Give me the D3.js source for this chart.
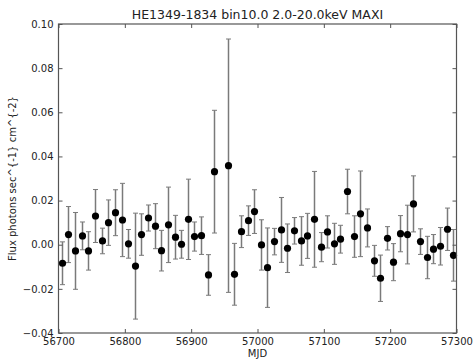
<!DOCTYPE html>
<html>
<head>
<meta charset="utf-8">
<script src="https://cdn.jsdelivr.net/npm/d3@7"></script>
<style>
html,body{margin:0;padding:0;background:#fff;}
svg{display:block;}
text{font-family:"DejaVu Sans",sans-serif;}
</style>
</head>
<body>
<svg id="chart" width="474" height="359"></svg>
<script>
const titleText = "HE1349-1834 bin10.0 2.0-20.0keV MAXI";
const xLabel = "MJD";
const yLabel = "Flux photons sec^{-1} cm^{-2}";
const xTicks = [56700, 56800, 56900, 57000, 57100, 57200, 57300];
const yTicks = [-0.04, -0.02, 0.00, 0.02, 0.04, 0.06, 0.08, 0.10];

const mjd = [56705,56715,56725,56735,56745,56755,56765,56775,56785,56795,
             56805,56815,56825,56835,56845,56855,56865,56875,56885,56895,
             56905,56915,56925,56935,56955,56965,56975,56985,56995,57005,
             57015,57025,57035,57045,57055,57065,57075,57085,57095,57105,
             57115,57125,57135,57145,57155,57165,57175,57185,57195,57205,
             57215,57225,57235,57245,57255,57265,57275,57285,57295];
const flux = [-0.0084,0.0046,-0.0028,0.0040,-0.0028,0.0130,0.0017,0.0100,0.0145,0.0112,
              0.0004,-0.0097,0.0046,0.0121,0.0084,-0.0027,0.0090,0.0034,0.0002,0.0115,
              0.0037,0.0041,-0.0137,0.0331,0.0358,-0.0134,0.0059,0.0109,0.0150,-0.0001,
              -0.0104,0.0014,0.0067,-0.0016,0.0063,0.0017,0.0040,0.0115,-0.0011,0.0058,
              0.0004,0.0025,0.0241,0.0037,0.0140,0.0076,-0.0073,-0.0152,0.0029,-0.0079,
              0.0050,0.0046,0.0185,0.0014,-0.0058,-0.0020,-0.0007,0.0070,-0.0048];
const fluxErr = [0.0097,0.0127,0.0174,0.0063,0.0087,0.0120,0.0058,0.0103,0.0104,0.0166,
                 0.0065,0.0240,0.0094,0.0059,0.0102,0.0092,0.0171,0.0099,0.0063,0.0182,
                 0.0066,0.0085,0.0092,0.0278,0.0574,0.0140,0.0072,0.0067,0.0099,0.0114,
                 0.0180,0.0060,0.0147,0.0110,0.0060,0.0110,0.0102,0.0217,0.0066,0.0073,
                 0.0093,0.0063,0.0101,0.0094,0.0194,0.0086,0.0070,0.0105,0.0053,0.0084,
                 0.0082,0.0133,0.0127,0.0058,0.0096,0.0066,0.0085,0.0096,0.0117];

const svg = d3.select("#chart");
const L = 58.5, R = 456.5, T = 24, B = 333;
const x = d3.scaleLinear().domain([56700, 57300]).range([L, R]);
const y = d3.scaleLinear().domain([-0.04, 0.10]).range([B, T]);

const spine = "#555";
const txt = "#222";
const errColor = "#7a7a7a";

// error bars
const data = mjd.map((m, i) => ({m, f: flux[i], e: fluxErr[i]}));
const eg = svg.append("g").attr("stroke", errColor).attr("stroke-width", 1.5).attr("fill", "none");
data.forEach(d => {
  const cx = Math.round(x(d.m)) + 0.5;
  eg.append("line").attr("x1", cx).attr("x2", cx).attr("y1", y(d.f + d.e)).attr("y2", y(d.f - d.e));
  eg.append("line").attr("x1", cx - 2.5).attr("x2", cx + 2.5).attr("y1", y(d.f + d.e)).attr("y2", y(d.f + d.e)).attr("stroke-width", 1);
  eg.append("line").attr("x1", cx - 2.5).attr("x2", cx + 2.5).attr("y1", y(d.f - d.e)).attr("y2", y(d.f - d.e)).attr("stroke-width", 1);
});

// markers
svg.append("g").selectAll("circle").data(data).join("circle")
  .attr("cx", d => Math.round(x(d.m)) + 0.5)
  .attr("cy", d => y(d.f))
  .attr("r", 3.6)
  .attr("fill", "#000");

// axes
const fmtY = d => (d < 0 ? "\u2212" : "") + Math.abs(d).toFixed(2);
const axB = d3.axisBottom(x).tickValues(xTicks).tickSize(-4).tickPadding(5).tickFormat(d3.format("d"));
const axT = d3.axisTop(x).tickValues(xTicks).tickSize(-4).tickFormat("");
const axL = d3.axisLeft(y).tickValues(yTicks).tickSize(-4).tickPadding(5).tickFormat(fmtY);
const axR = d3.axisRight(y).tickValues(yTicks).tickSize(-4).tickFormat("");

function style(g) {
  g.select(".domain").remove();
  g.selectAll(".tick line").attr("stroke", spine);
  g.selectAll(".tick text").attr("fill", txt).style("font-size", "10px").style("font-family", "DejaVu Sans");
}
svg.append("g").attr("transform", `translate(0,${B})`).call(axB).call(style);
svg.append("g").attr("transform", `translate(0,${T})`).call(axT).call(style);
svg.append("g").attr("transform", `translate(${L},0)`).call(axL).call(style);
svg.append("g").attr("transform", `translate(${R},0)`).call(axR).call(style);

// frame
svg.append("rect").attr("x", L).attr("y", T).attr("width", R - L).attr("height", B - T)
  .attr("fill", "none").attr("stroke", spine).attr("stroke-width", 1.2);

// labels
svg.append("text").attr("x", (L + R) / 2).attr("y", 19).attr("text-anchor", "middle")
  .attr("fill", txt).style("font-size", "12.5px").text(titleText);
svg.append("text").attr("x", (L + R) / 2).attr("y", 357).attr("text-anchor", "middle")
  .attr("fill", txt).style("font-size", "10px").text(xLabel);
svg.append("text").attr("transform", `translate(16,${(T + B) / 2}) rotate(-90)`).attr("text-anchor", "middle")
  .attr("fill", txt).style("font-size", "10px").text(yLabel);
</script>
</body>
</html>
